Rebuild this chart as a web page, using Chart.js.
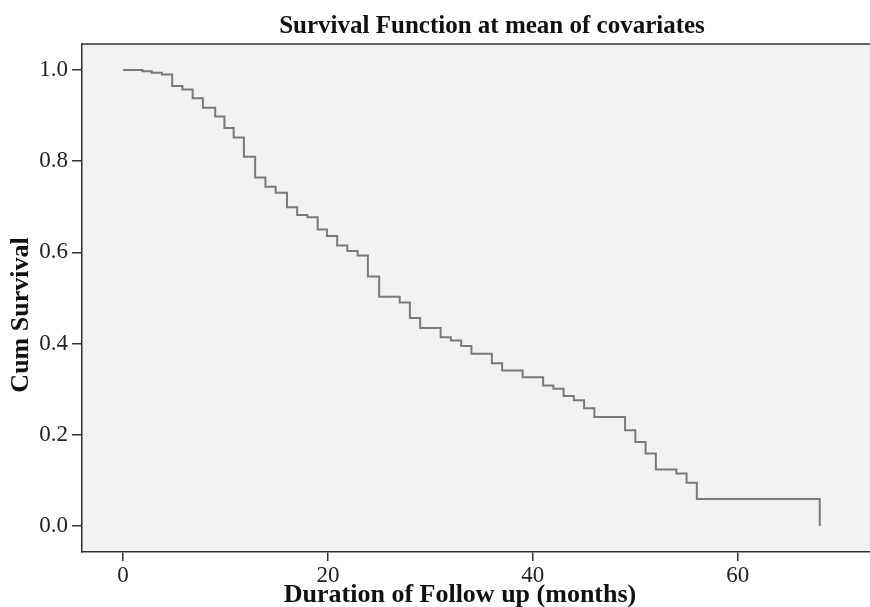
<!DOCTYPE html>
<html>
<head>
<meta charset="utf-8">
<script src="https://cdn.jsdelivr.net/npm/chart.js@4.4.1/dist/chart.umd.min.js"></script>
<style>
  html, body { margin: 0; padding: 0; background: #fff; }
  #wrap { width: 870px; height: 607px; }
</style>
</head>
<body>
<div id="wrap"><canvas id="c" width="870" height="607"></canvas></div>
<script>
/* DATA */
const months = [0, 1.9, 2.8, 3.8, 4.8, 5.8, 6.8, 7.8, 9.0, 9.9, 10.8, 11.8, 12.9, 13.9, 14.9,
  16, 17, 18, 19, 19.9, 20.9, 21.9, 22.9, 23.9, 25, 27, 28, 29, 31, 32, 33, 34, 36, 37, 39,
  41, 42, 43, 44, 45, 46, 49, 50, 51, 52, 54, 55, 56, 68];
const survival = [1.0, 0.997, 0.994, 0.990, 0.965, 0.957, 0.938, 0.917, 0.898, 0.873, 0.852,
  0.810, 0.764, 0.744, 0.731, 0.699, 0.682, 0.677, 0.650, 0.636, 0.615, 0.603, 0.593, 0.547,
  0.503, 0.490, 0.456, 0.434, 0.414, 0.407, 0.395, 0.378, 0.357, 0.341, 0.326, 0.308, 0.301,
  0.285, 0.276, 0.258, 0.239, 0.210, 0.184, 0.159, 0.124, 0.115, 0.095, 0.059, 0.0];
const xTicks = [0, 20, 40, 60];
const yTicks = [0, 0.2, 0.4, 0.6, 0.8, 1.0];

const chartTitle = "Survival Function at mean of covariates";
const xTitle = "Duration of Follow up (months)";
const yTitle = "Cum Survival";

const SERIF = "'Liberation Serif', 'DejaVu Serif', serif";

/* plot background, top frame line, titles */
const framePlugin = {
  id: "frame",
  beforeDraw(chart) {
    const { ctx, chartArea: a } = chart;
    ctx.save();
    ctx.fillStyle = "#f2f2f2";
    ctx.fillRect(a.left, a.top, a.right - a.left, a.bottom - a.top);
    ctx.restore();
  },
  afterDraw(chart) {
    const { ctx, chartArea: a } = chart;
    ctx.save();
    ctx.strokeStyle = "#333";
    ctx.lineWidth = 1.5;
    ctx.beginPath();
    ctx.moveTo(a.left, a.top);
    ctx.lineTo(a.right, a.top);
    ctx.stroke();

    ctx.fillStyle = "#111";
    ctx.textAlign = "center";
    ctx.textBaseline = "alphabetic";
    ctx.font = "bold 25px " + SERIF;
    ctx.fillText(chartTitle, 492, 33);

    ctx.font = "bold 26px " + SERIF;
    ctx.fillText(xTitle, 460, 602);

    ctx.translate(28, 315);
    ctx.rotate(-Math.PI / 2);
    ctx.fillText(yTitle, 0, 0);
    ctx.restore();
  }
};

new Chart(document.getElementById("c"), {
  type: "line",
  data: {
    datasets: [{
      data: months.map((m, i) => ({ x: m, y: survival[i] })),
      stepped: true,
      borderColor: "#7a7a7a",
      borderWidth: 2,
      pointRadius: 0,
      fill: false
    }]
  },
  options: {
    responsive: false,
    animation: false,
    layout: { padding: { top: 44, right: 0, left: 0, bottom: 0 } },
    plugins: { legend: { display: false }, tooltip: { enabled: false } },
    scales: {
      x: {
        type: "linear",
        min: -4,
        max: 72.9,
        afterFit(s) { s.height = 55; },
        afterBuildTicks(s) { s.ticks = xTicks.map(v => ({ value: v })); },
        grid: { drawOnChartArea: false, drawTicks: true, tickLength: 9, color: "#333", lineWidth: 1.5 },
        border: { display: true, color: "#333", width: 1.5 },
        ticks: { font: { family: SERIF, size: 23 }, color: "#222", padding: 1 }
      },
      y: {
        type: "linear",
        min: -0.057,
        max: 1.057,
        afterFit(s) { s.width = 82; },
        afterBuildTicks(s) { s.ticks = yTicks.map(v => ({ value: v })); },
        grid: { drawOnChartArea: false, drawTicks: true, tickLength: 10, color: "#333", lineWidth: 1.5 },
        border: { display: true, color: "#333", width: 1.5 },
        ticks: {
          font: { family: SERIF, size: 23 }, color: "#222", padding: 4,
          callback: v => v.toFixed(1)
        }
      }
    }
  },
  plugins: [framePlugin]
});
</script>
</body>
</html>
